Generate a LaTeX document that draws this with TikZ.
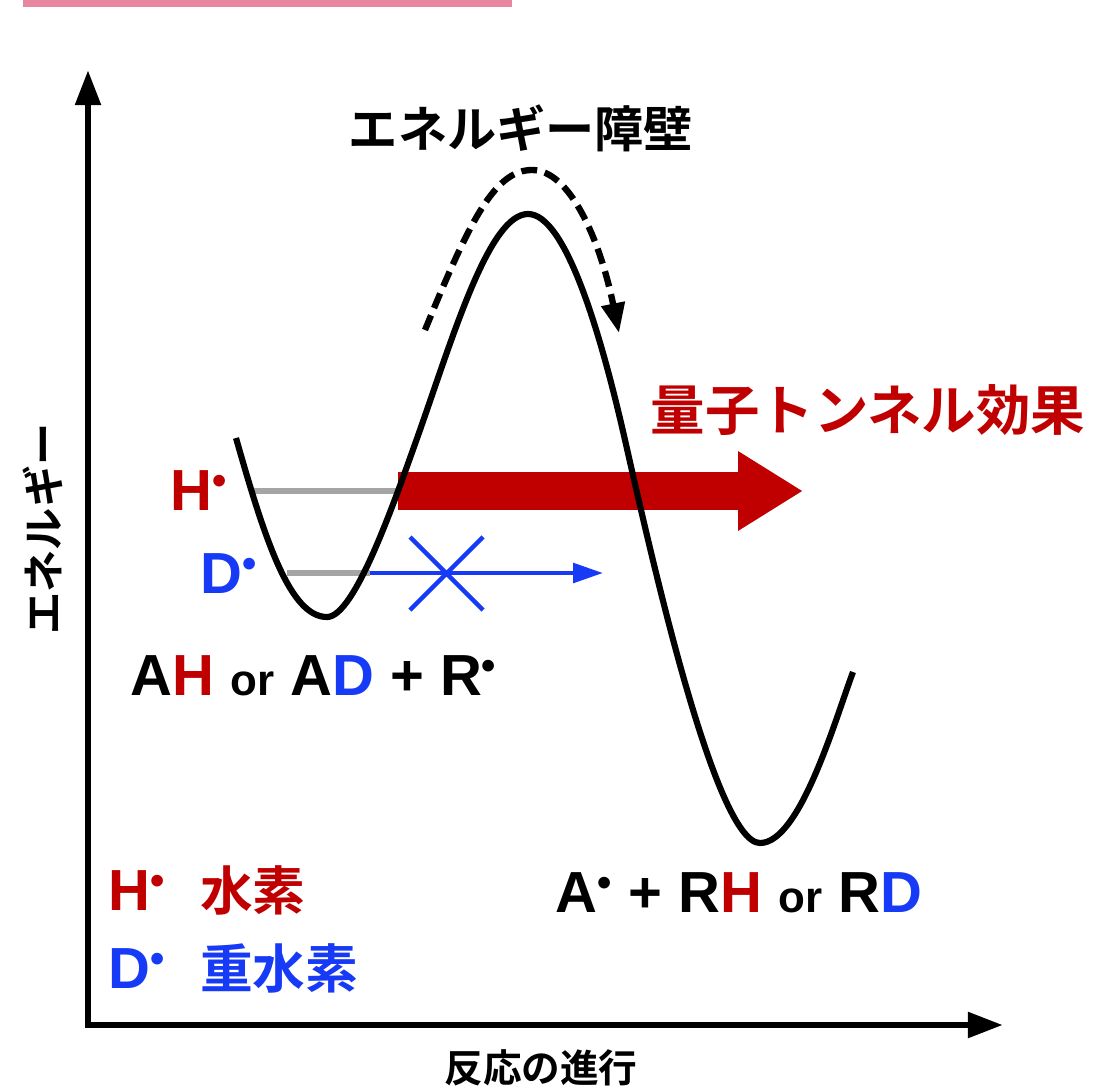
\documentclass[tikz,border=0pt]{standalone}
\usepackage{fontspec}
\setmainfont{Liberation Sans}
\newfontfamily\jp{Noto Sans CJK JP}[BoldFont={* Bold}]
\usetikzlibrary{arrows.meta}
\definecolor{hred}{RGB}{192,0,0}
\definecolor{dblue}{RGB}{22,58,245}
\definecolor{lvlgray}{RGB}{165,165,165}
\definecolor{barpink}{RGB}{232,134,160}
\newcommand{\rad}{\textsuperscript{•}}
\newcommand{\fs}[1]{\fontsize{#1}{#1}\selectfont}

\begin{document}
\begin{tikzpicture}[x=0.02cm, y=-0.02cm,
    lat/.style={font=\fs{33}\bfseries, inner sep=0pt, anchor=base west},
    jpn/.style={inner sep=0pt},
    level/.style={draw=lvlgray, line width=3pt}]
    \useasboundingbox (0,0) rectangle (1094,1088);
    \fill[barpink] (23,0) rectangle (512,7);
    % axes
    \coordinate (ytip) at (88,70);
    \coordinate (xtip) at (1003,1025);
    \draw[line width=3.8pt, {Triangle[length=20pt,width=14pt]}-{Triangle[length=20pt,width=14pt]}]
      (ytip) |- (xtip);
    \node[jpn, rotate=90, font=\jp\bfseries\fs{24}] (ylab) at (43,529) {エネルギー};
    \node[jpn, font=\jp\bfseries\fs{22}] (xlab) at (541,1068) {反応の進行};
    % levels and tunnelling
    \coordinate (hl) at (253,491);
    \coordinate (hr) at (398,491);
    \coordinate (dl) at (287,573);
    \coordinate (dr) at (370,573);
    \coordinate (redtip) at (803,491);
    \coordinate (bluetip) at (603,573);
    \coordinate (cross) at (447,573);
    \draw[level] (hl) -- (hr);
    \draw[level] (dl) -- (dr);
    \draw[hred, line width=21.6pt, -{Triangle[length=37pt,width=42.7pt]}] (hr) -- (redtip);
    \draw[dblue, line width=2.5pt, -{Triangle[length=17pt,width=11pt]}] (dr) -- (bluetip);
    \draw[dblue, line width=2.5pt] (cross) +(-37,-36) -- +(36,37)
      (cross) +(36,-36) -- +(-37,37);
    % energy curve
    \draw[line width=3.5pt] (236,438) .. controls (265,540) and (290,617) .. (327,617)
      .. controls (355,617) and (395,500) .. (420,430)
      .. controls (455,330) and (490,214) .. (528,214)
      .. controls (565,214) and (600,330) .. (625,440)
      .. controls (650,550) and (715,843) .. (760,843)
      .. controls (800,843) and (835,720) .. (853,672);
    \draw[line width=3.6pt, dash pattern=on 9pt off 4.5pt, -{Triangle[length=17pt,width=13pt]}]
      (425,330) .. controls (470,220) and (495,170) .. (532,170)
      .. controls (570,170) and (600,240) .. (619,333);
    \node[jpn, font=\jp\bfseries\fs{28}] (barrier) at (521,128) {エネルギー障壁};
    \node[jpn, hred, font=\jp\bfseries\fs{31}] (tunnel) at (868,410) {量子トンネル効果};
    % labels
    \node[lat, hred] (hdot) at (170,510) {H\rad};
    \node[lat, dblue] (ddot) at (200,593) {D\rad};
    \node[lat] (react) at (130,695) {A\textcolor{hred}{H} {\fs{25}or} A\textcolor{dblue}{D} + R\rad};
    \node[lat] (prod) at (555,912) {A\rad{} + R\textcolor{hred}{H} {\fs{25}or} R\textcolor{dblue}{D}};
    \node[lat, hred] (hkey) at (108,910) {H\rad\hspace{0.6em}{\jp\fs{30}水素}};
    \node[lat, dblue] (dkey) at (108,988) {D\rad\hspace{0.6em}{\jp\fs{30}重水素}};
\end{tikzpicture}
\end{document}
